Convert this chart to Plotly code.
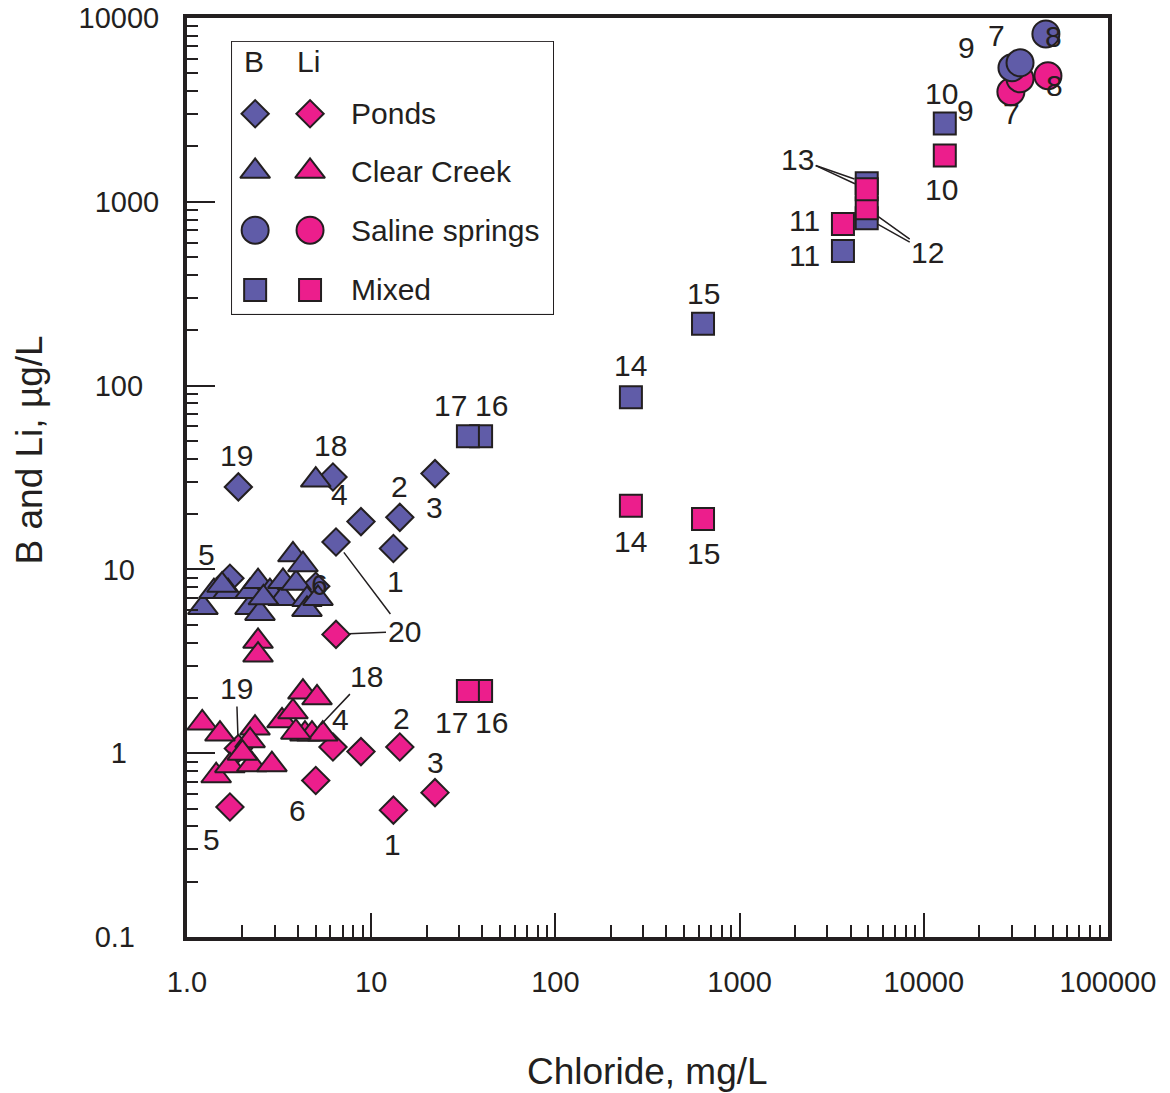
import numpy as np
import plotly.graph_objects as go

# ---------------- data ----------------
# Ponds (sites 1-6, 19, 20, unlabeled)
pond_id = ["1", "2", "3", "4", "5", "6", "19", "20", ""]
pond_cl = [13.2, 14.3, 22.2, 6.2, 1.71, 5.0, 1.9, 6.44, 8.8]
pond_B = [13.0, 19.2, 33.2, 31.8, 8.95, 8.1, 28.1, 14.1, 18.2]
pond_Li = [0.49, 1.08, 0.61, 1.08, 0.51, 0.71, 1.06, 4.43, 1.02]

# Clear Creek
creek_cl_B = [1.22, 1.40, 1.67, 2.20, 2.20, 2.43, 2.49, 2.82, 3.32, 3.32,
              3.76, 3.91, 4.26, 4.48, 4.48, 5.14, 5.0, 1.55, 2.6]
creek_B = [6.21, 7.58, 7.58, 6.21, 7.58, 8.59, 5.76, 7.58, 6.95, 8.6,
           12.0, 8.4, 10.6, 6.86, 6.06, 6.95, 30.6, 8.2, 7.0]
creek_cl_Li = [1.21, 1.51, 1.44, 1.71, 2.25, 2.89, 2.34, 2.20, 3.28, 3.76,
               4.26, 5.08, 4.37, 4.77, 5.46, 2.43, 2.43, 3.9, 2.0]
creek_Li = [1.46, 1.27, 0.754, 0.855, 0.866, 0.866, 1.37, 1.17, 1.50, 1.68,
            2.15, 2.0, 1.27, 1.27, 1.27, 4.06, 3.42, 1.3, 1.0]

# Saline springs (sites 7, 8, 9)
saline_id = ["7", "8", "9"]
saline_cl_B = [30100, 46000, 33300]
saline_B = [5360, 8190, 5700]
saline_cl_Li = [29700, 47200, 33300]
saline_Li = [3970, 4850, 4670]

# Mixed (sites 10-17)
mixed_id = ["10", "11", "12", "13", "14", "15", "16", "17"]
mixed_cl = [13000, 3640, 4900, 4900, 257, 633, 39.5, 33.5]
mixed_B = [2667, 540, 815, 1262, 86.3, 217, 53.1, 53.1]
mixed_Li = [1787, 757, 923, 1170, 22.2, 18.8, 2.18, 2.18]

x_tickvals = [1, 10, 100, 1000, 10000, 100000]
x_ticktext = ["1.0", "10", "100", "1000", "10000", "100000"]
y_tickvals = [0.1, 1, 10, 100, 1000, 10000]
y_ticktext = ["0.1\u2007\u2008", "1\u2007\u2007", "10\u2007\u2008", "100\u2007", "1000", "10000"]

legend_groups = ["Ponds", "Clear Creek", "Saline springs", "Mixed"]
legend_symbols = ["diamond", "triangle-up", "circle", "square"]

# ---------------- styles ----------------
BLUE = "#605CA8"
PINK = "#EC1E8C"
EDGE = "#231F20"
FONT = "Liberation Sans, Arial, Helvetica, sans-serif"
SIZES = {"diamond": 21, "triangle-up": 26, "circle": 27, "square": 22}

fig = go.Figure()


def add(xs, ys, sym, color, name):
    fig.add_trace(go.Scatter(
        x=xs, y=ys, mode="markers", name=name, showlegend=False,
        marker=dict(symbol=sym, size=SIZES[sym], color=color, opacity=1,
                    line=dict(color=EDGE, width=2)),
        cliponaxis=False))


add(pond_cl, pond_B, "diamond", BLUE, "Ponds B")
add(pond_cl, pond_Li, "diamond", PINK, "Ponds Li")
add(creek_cl_B, creek_B, "triangle-up", BLUE, "Clear Creek B")
add(creek_cl_Li, creek_Li, "triangle-up", PINK, "Clear Creek Li")
add(mixed_cl, mixed_B, "square", BLUE, "Mixed B")
add(mixed_cl, mixed_Li, "square", PINK, "Mixed Li")
add(saline_cl_Li, saline_Li, "circle", PINK, "Saline Li")
add(saline_cl_B, saline_B, "circle", BLUE, "Saline B")

# ---------------- point labels ----------------
series = {
    "pondB": (pond_cl, pond_B), "pondLi": (pond_cl, pond_Li),
    "mixB": (mixed_cl, mixed_B), "mixLi": (mixed_cl, mixed_Li),
    "salB": (saline_cl_B, saline_B), "salLi": (saline_cl_Li, saline_Li),
    "creekLi": (creek_cl_Li, creek_Li), "creekB": (creek_cl_B, creek_B),
}
# (series, index, text, dx, dy, leader, visible)
labels = [
    ("pondB", 6, "19", -2, -31, False, True),
    ("creekB", 16, "18", 15, -35, False, True),
    ("pondB", 3, "4", 7, 17, False, True),
    ("pondB", 1, "2", 0, -31, False, True),
    ("pondB", 2, "3", -1, 34, False, True),
    ("pondB", 0, "1", 2, 33, False, True),
    ("pondB", 4, "5", -23, -24, False, True),
    ("pondB", 5, "6", 4, -2, False, True),
    ("pondB", 7, "20", 68, 90, True, True),
    ("pondLi", 7, "20", 68, -3, True, False),
    ("mixB", 7, "17", -17, -31, False, True),
    ("mixB", 6, "16", 10, -31, False, True),
    ("mixB", 4, "14", 0, -32, False, True),
    ("mixB", 5, "15", 0, -30, False, True),
    ("mixB", 1, "11", -38, 5, False, True),
    ("mixLi", 1, "11", -38, -4, False, True),
    ("mixB", 3, "13", -69, -24, True, True),
    ("mixLi", 3, "13", -69, -32, True, False),
    ("mixLi", 2, "12", 61, 44, True, True),
    ("mixB", 2, "12", 61, 34, True, False),
    ("mixB", 0, "10", -3, -30, False, True),
    ("mixLi", 0, "10", -3, 34, False, True),
    ("salB", 2, "9", -54, -15, False, True),
    ("salB", 0, "7", -15, -32, False, True),
    ("salB", 1, "8", 8, 3, False, True),
    ("salLi", 2, "9", -55, 32, False, True),
    ("salLi", 0, "7", 1, 22, False, True),
    ("salLi", 1, "8", 7, 10, False, True),
    ("pondLi", 6, "19", -2, -60, True, True),
    ("creekLi", 13, "18", 55, -58, True, True),
    ("pondLi", 3, "4", 8, -28, False, True),
    ("pondLi", 1, "2", 2, -29, False, True),
    ("pondLi", 2, "3", 0, -30, False, True),
    ("pondLi", 0, "1", -1, 34, False, True),
    ("pondLi", 5, "6", -18, 30, False, True),
    ("pondLi", 4, "5", -18, 33, False, True),
    ("mixLi", 7, "17", -16, 32, False, True),
    ("mixLi", 6, "16", 10, 32, False, True),
    ("mixLi", 4, "14", 0, 36, False, True),
    ("mixLi", 5, "15", 0, 34, False, True),
]

annotations = []
for key, i, txt, dx, dy, leader, vis in labels:
    xs, ys = series[key]
    xv, yv = np.log10(xs[i]), np.log10(ys[i])
    col = EDGE if vis else "rgba(0,0,0,0)"
    if leader:
        annotations.append(dict(
            x=xv, y=yv, xref="x", yref="y", text=txt, showarrow=True,
            arrowhead=0, arrowwidth=1.5, arrowcolor=EDGE, standoff=13,
            ax=dx, ay=dy, axref="pixel", ayref="pixel",
            font=dict(family=FONT, size=30, color=col)))
    else:
        annotations.append(dict(
            x=xv, y=yv, xref="x", yref="y", text=txt, showarrow=False,
            xshift=dx, yshift=-dy, font=dict(family=FONT, size=30, color=EDGE)))

# ---------------- custom legend (inset axes) ----------------
LX_B, LX_LI, LX_TXT = 0.072, 0.243, 0.364
LROWS = [0.736, 0.524, 0.308, 0.088]
for xpos, color in ((LX_B, BLUE), (LX_LI, PINK)):
    fig.add_trace(go.Scatter(
        x=[xpos] * len(legend_groups), y=LROWS, xaxis="x2", yaxis="y2",
        mode="markers", showlegend=False, hoverinfo="skip",
        marker=dict(symbol=legend_symbols,
                    size=[SIZES[s] for s in legend_symbols], opacity=1,
                    color=color, line=dict(color=EDGE, width=2))))
for txt, ypos in zip(legend_groups, LROWS):
    annotations.append(dict(x=LX_TXT, y=ypos, xref="x2", yref="y2", text=txt,
                            showarrow=False, xanchor="left",
                            font=dict(family=FONT, size=30, color=EDGE)))
annotations.append(dict(x=0.068, y=0.927, xref="x2", yref="y2", text="B",
                        showarrow=False, font=dict(family=FONT, size=30, color=EDGE)))
annotations.append(dict(x=0.237, y=0.927, xref="x2", yref="y2", text="Li",
                        showarrow=False, font=dict(family=FONT, size=30, color=EDGE)))

# axis titles
annotations.append(dict(x=0.4995, y=-0.146, xref="paper", yref="paper",
                        xanchor="center", yanchor="middle",
                        text="Chloride, mg/L", showarrow=False,
                        font=dict(family=FONT, size=37, color=EDGE)))
annotations.append(dict(x=-0.171, y=0.530, xref="paper", yref="paper",
                        xanchor="center", yanchor="middle",
                        text="B and Li, \u00b5g/L", showarrow=False, textangle=-90,
                        font=dict(family=FONT, size=37, color=EDGE)))

minor_x = [k * 10 ** d for d in range(0, 5) for k in range(2, 10)]
minor_y = [k * 10 ** d for d in range(-1, 4) for k in range(2, 10)]

fig.update_layout(
    width=1170, height=1093,
    margin=dict(l=187, r=62, t=18, b=156, autoexpand=False),
    paper_bgcolor="white", plot_bgcolor="white",
    font=dict(family=FONT, size=30, color=EDGE),
    xaxis=dict(type="log", range=[0, 5], tickmode="array",
               tickvals=x_tickvals, ticktext=x_ticktext, automargin=False,
               ticks="inside", ticklen=24, tickwidth=2, tickcolor=EDGE,
               minor=dict(tickmode="array", tickvals=minor_x, ticks="inside",
                          ticklen=12, tickwidth=2, tickcolor=EDGE, showgrid=False),
               showline=True, linewidth=4, linecolor=EDGE, mirror=True,
               showgrid=False, zeroline=False, ticklabelstandoff=16,
               ticklabeloverflow="allow",
               tickfont=dict(family=FONT, size=29, color=EDGE)),
    yaxis=dict(type="log", range=[-1, 4], tickmode="array",
               tickvals=y_tickvals, ticktext=y_ticktext, automargin=False,
               ticks="inside", ticklen=28, tickwidth=2, tickcolor=EDGE,
               minor=dict(tickmode="array", tickvals=minor_y, ticks="inside",
                          ticklen=11, tickwidth=2, tickcolor=EDGE, showgrid=False),
               showline=True, linewidth=4, linecolor=EDGE, mirror=True,
               showgrid=False, zeroline=False, ticklabelstandoff=18,
               ticklabeloverflow="allow",
               tickfont=dict(family=FONT, size=29, color=EDGE)),
    xaxis2=dict(domain=[0.0489, 0.3974], range=[0, 1], anchor="y2",
                visible=False, fixedrange=True),
    yaxis2=dict(domain=[0.678, 0.974], range=[0, 1], anchor="x2",
                visible=False, fixedrange=True),
    shapes=[dict(type="rect", xref="paper", yref="paper",
                 x0=0.0489, x1=0.3974, y0=0.678, y1=0.974,
                 line=dict(color=EDGE, width=2), layer="below")],
    annotations=annotations,
    showlegend=False,
)

fig.write_html("out.html")
